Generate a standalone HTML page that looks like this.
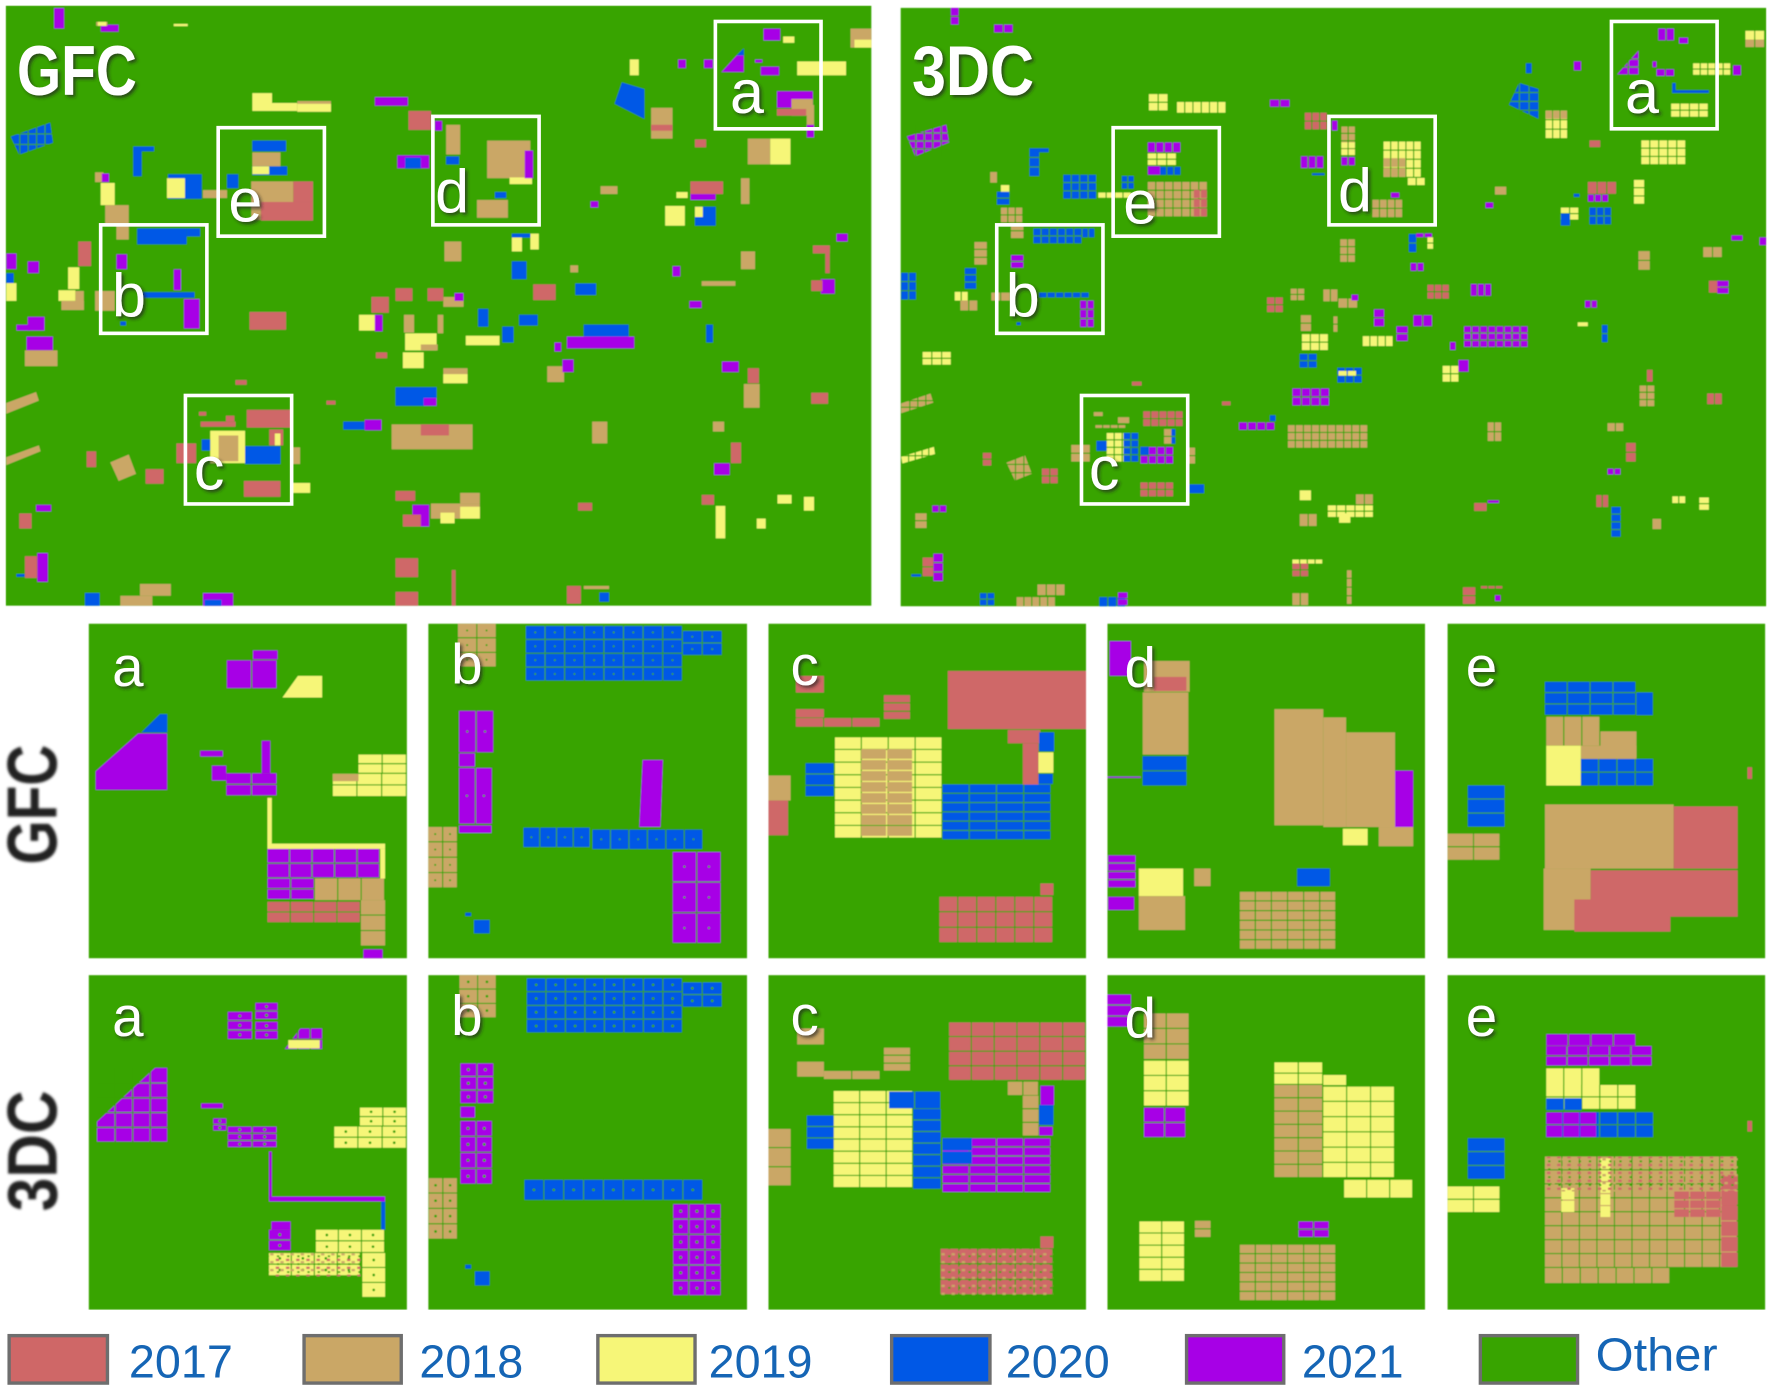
<!DOCTYPE html>
<html lang="en">
<head>
<meta charset="utf-8">
<title>GFC and 3DC land classification maps</title>
<style>
html,body{margin:0;padding:0;background:#fff;}
svg{display:block;width:1772px;height:1391px;font-family:"Liberation Sans",sans-serif;}
.box{fill:none;stroke:#fff;stroke-width:3.2;}
.let{fill:#fff;font-size:54px;text-anchor:middle;filter:url(#shadow);}
.sm{font-size:50px;}
.title{fill:#fff;font-size:62px;font-weight:bold;filter:url(#shadow);}
.side{fill:#222;font-size:62px;font-weight:bold;filter:url(#sideShadow);}
.lg{fill:#1565b5;font-size:41px;}
.sw{stroke:#6e6e6e;stroke-width:3;}
</style>
</head>
<body>
<svg id="fig" viewBox="0 0 1568 1231" xmlns="http://www.w3.org/2000/svg">
<defs>
<filter id="shadow" x="-30%" y="-30%" width="160%" height="160%"><feDropShadow dx="2" dy="2" stdDeviation="1.5" flood-color="#222" flood-opacity=".7"/></filter>
<filter id="sideShadow" x="-30%" y="-30%" width="160%" height="160%"><feGaussianBlur stdDeviation="1.1"/></filter>
<filter id="mapSoften" x="0" y="0" width="100%" height="100%"><feGaussianBlur stdDeviation="0.45"/></filter>
<pattern id="mottle" width="9" height="7" patternUnits="userSpaceOnUse">
<rect x="1" y="1" width="3" height="2" fill="#cf6767"/>
<rect x="5" y="3" width="3" height="2" fill="#caa766"/>
<rect x="2" y="5" width="2" height="1.5" fill="#38a400"/>
</pattern>
</defs>
<rect x="0" y="0" width="1568" height="1231" fill="#fff"/>
<g id="maps" filter="url(#mapSoften)"></g>

<g>
<rect class="box" x="633" y="19" width="93.5" height="95"/>
<rect class="box" x="193" y="113" width="94" height="96"/>
<rect class="box" x="383" y="103" width="94" height="96"/>
<rect class="box" x="89" y="199" width="94" height="96"/>
<rect class="box" x="164" y="350" width="94" height="96"/>
</g>
<g>
<rect class="box" x="1426" y="19" width="93.5" height="95"/>
<rect class="box" x="985" y="113" width="94" height="96"/>
<rect class="box" x="1176" y="103" width="94" height="96"/>
<rect class="box" x="882" y="199" width="94" height="96"/>
<rect class="box" x="957" y="350" width="94" height="96"/>
</g>

<text class="title" x="15" y="84" textLength="106" lengthAdjust="spacingAndGlyphs">GFC</text>
<text class="title" x="807" y="84" textLength="108" lengthAdjust="spacingAndGlyphs">3DC</text>

<text class="let" x="661" y="100">a</text>
<text class="let" x="217" y="196">e</text>
<text class="let" x="400" y="188">d</text>
<text class="let" x="114" y="280">b</text>
<text class="let" x="185" y="433">c</text>
<text class="let" x="1453" y="100">a</text>
<text class="let" x="1009" y="198">e</text>
<text class="let" x="1199" y="187">d</text>
<text class="let" x="905" y="280">b</text>
<text class="let" x="977" y="433">c</text>

<text class="let sm" x="113" y="607">a</text>
<text class="let sm" x="413" y="605">b</text>
<text class="let sm" x="712" y="606">c</text>
<text class="let sm" x="1009" y="608">d</text>
<text class="let sm" x="1311" y="607">e</text>
<text class="let sm" x="113" y="917">a</text>
<text class="let sm" x="413" y="916">b</text>
<text class="let sm" x="712" y="916">c</text>
<text class="let sm" x="1009" y="918">d</text>
<text class="let sm" x="1311" y="917">e</text>

<text class="side" transform="translate(50,765) rotate(-90)" textLength="106" lengthAdjust="spacingAndGlyphs">GFC</text>
<text class="side" transform="translate(50,1072) rotate(-90)" textLength="107" lengthAdjust="spacingAndGlyphs">3DC</text>

<g>
<g><rect class="sw" x="8" y="1182" width="87" height="42" fill="#cf6767"/><text class="lg" x="114" y="1219" textLength="92" lengthAdjust="spacingAndGlyphs">2017</text></g>
<g><rect class="sw" x="269" y="1182" width="86" height="42" fill="#caa766"/><text class="lg" x="371" y="1219" textLength="92" lengthAdjust="spacingAndGlyphs">2018</text></g>
<g><rect class="sw" x="529" y="1182" width="86" height="42" fill="#f6f678"/><text class="lg" x="627" y="1219" textLength="92" lengthAdjust="spacingAndGlyphs">2019</text></g>
<g><rect class="sw" x="789" y="1182" width="87" height="42" fill="#0058e6"/><text class="lg" x="890" y="1219" textLength="92" lengthAdjust="spacingAndGlyphs">2020</text></g>
<g><rect class="sw" x="1050" y="1182" width="86" height="42" fill="#a700e6"/><text class="lg" x="1152" y="1219" textLength="90" lengthAdjust="spacingAndGlyphs">2021</text></g>
<g><rect class="sw" x="1310" y="1182" width="86" height="42" fill="#38a400"/><text class="lg" x="1412" y="1213" textLength="108" lengthAdjust="spacingAndGlyphs">Other</text></g>
</g>
</svg>

<script>
// Land-cover classes, in legend order: 0=2017 1=2018 2=2019 3=2020 4=2021
const classNames = ['2017', '2018', '2019', '2020', '2021'];
const classColors = ['#cf6767', '#caa766', '#f6f678', '#0058e6', '#a700e6'];

// Parcels in each map's own coordinates: [class, x0, y0, x1, y1, cols, rows]
const gfcOverview = [
[4,97,20,115,72],[4,180,62,212,80],[1,172,55,192,65],[2,175,55,190,65],[2,310,60,335,66],
[4,1360,72,1390,102],[2,1395,92,1415,108],[4,1208,150,1222,172],[4,1254,150,1270,172],[4,1345,150,1358,158],[4,1355,168,1388,190],
[2,1420,155,1507,190],[1,1515,72,1552,120],[2,1522,100,1552,120],[4,1384,230,1448,272],[1,1410,250,1448,292],[0,1384,275,1436,292],[1,1437,265,1450,320],[4,1437,315,1450,347],
[1,1160,272,1198,350],[0,1160,315,1198,330],[2,1122,150,1138,190],[0,1238,352,1258,372],[1,1332,350,1372,415],[2,1372,350,1408,415],
[2,450,235,485,280],[2,485,260,530,280],[1,530,255,590,282],[2,530,262,590,282],[4,668,245,727,267],[0,728,280,768,328],[4,775,305,788,330],
[1,795,315,820,390],[3,795,395,818,415],[4,708,392,765,425],[3,722,398,750,425],[1,868,355,945,450],[2,908,448,948,465],[4,935,380,950,450],[1,850,505,905,550],[3,882,485,902,500],
[3,450,355,510,382],[1,450,385,500,420],[3,450,420,512,442],[2,450,420,480,440],[3,405,440,425,475],[1,448,458,523,530],[0,523,458,558,555],[0,465,510,558,557],[1,448,530,465,555],[1,362,480,405,500],
[3,238,370,275,382],[3,238,380,253,445],[3,300,440,360,502],[2,298,450,330,500],[1,170,435,185,460],[4,182,438,195,460],[2,180,462,205,518],[1,188,518,230,565],[1,208,565,230,605],[0,140,610,163,672],
[3,245,577,333,617],[3,333,577,357,597],[4,208,642,227,680],[4,310,680,323,733],[3,255,738,347,752],[4,328,755,356,830],[3,215,812,225,822],[1,170,735,205,785],
[2,122,675,142,730],[2,105,733,135,760],[1,110,760,150,783],[1,135,735,150,783],[4,12,640,30,680],[3,12,690,25,720],[2,12,715,30,760],[4,50,660,70,690],
[0,445,788,510,833],[4,30,820,55,835],[4,50,800,80,835],[4,48,850,95,885],[1,45,885,103,925],[0,155,1140,172,1180],[0,260,1185,292,1222],
[0,440,1035,520,1080],[0,355,1040,368,1050],[0,358,1065,420,1078],[0,403,1050,418,1065],[2,375,1088,437,1170],[1,390,1100,425,1165],[3,360,1110,375,1138],[3,437,1127,500,1172],[0,480,1085,505,1125],[2,490,1095,500,1125],[0,315,1120,350,1170],[0,435,1215,500,1255],[1,522,1130,535,1172],[2,520,1220,553,1245],
[0,420,960,440,972],[0,582,1012,598,1022],[3,612,1065,650,1085],[4,650,1060,680,1087],[3,705,978,778,1025],[4,755,1005,778,1025],[1,698,1072,842,1135],[0,750,1072,800,1100],
[0,662,750,693,790],[0,705,728,735,760],[0,762,728,790,760],[1,790,750,826,775],[4,810,740,826,760],[2,640,795,670,835],[4,668,795,682,837],[1,720,795,738,840],[1,780,795,790,842],
[2,722,842,778,885],[1,750,870,780,885],[2,718,890,755,930],[0,670,890,690,905],[1,790,930,833,968],[2,790,945,833,968],[2,830,848,890,872],[3,852,780,870,825],[3,925,795,958,822],[3,895,825,915,865],
[3,1025,716,1062,745],[0,950,718,990,758],[3,1040,820,1120,850],[4,1010,850,1130,880],[4,988,865,1000,888],[1,975,925,1005,965],[4,1002,908,1022,940],
[1,1320,450,1335,515],[0,1230,458,1288,490],[4,1230,490,1275,505],[2,1185,520,1220,570],[3,1238,522,1275,570],[2,1238,522,1252,548],[2,1205,485,1225,500],[1,1070,470,1100,490],[4,1052,508,1066,524],
[2,945,590,960,630],[3,912,590,945,600],[2,912,600,930,635],[3,912,660,938,705],[1,792,610,822,660],[1,1016,670,1030,688],[4,1198,672,1212,698],[1,1250,710,1310,722],
[0,1448,620,1478,640],[0,1470,620,1478,690],[4,1462,705,1487,742],[0,1445,708,1465,735],[4,1490,590,1510,610],[1,1320,635,1345,680],[4,1228,760,1250,778],[3,1258,820,1270,865],
[4,1286,913,1316,940],[1,1325,970,1353,1030],[0,1332,930,1352,968],[0,1445,992,1475,1020],[1,1055,1065,1082,1120],[0,1302,1118,1320,1170],[4,1272,1170,1300,1200],[1,1270,1065,1290,1090],
[2,1385,1250,1410,1272],[2,1432,1255,1450,1290],[2,1348,1310,1364,1335],[2,1275,1278,1292,1360],[0,1250,1250,1272,1275],
[0,705,1240,740,1265],[1,768,1272,855,1310],[4,735,1275,765,1330],[0,718,1300,750,1330],[2,785,1295,810,1322],[2,820,1280,855,1310],[1,820,1245,855,1272],[0,1030,1270,1055,1290],
[4,65,1275,92,1292],[0,35,1297,57,1335],[4,67,1397,86,1470],[0,45,1405,67,1460],[3,30,1450,45,1457],[0,705,1410,745,1458],[0,705,1495,745,1530],[0,805,1440,812,1530],[0,1010,1480,1035,1525],[3,1068,1497,1085,1520],[1,1040,1480,1085,1488],
[3,152,1498,178,1530],[1,215,1505,272,1530],[1,250,1475,305,1505],[4,362,1498,416,1530],[3,365,1515,395,1530]
];
// Polygons: [class, "x,y x,y ...", cols, rows] — cols/rows add a field lattice
const gfcOverviewShapes = [
[4,'1285,182 1312,140 1325,140 1325,182'],[3,'1312,140 1325,122 1325,140'],[3,'1108,208 1148,225 1148,300 1095,262'],[3,'20,345 90,310 95,360 35,390',5,3],
[1,'12,1018 65,990 70,1012 12,1045'],[1,'12,1155 70,1125 73,1140 12,1175'],[1,'197,1168 230,1148 243,1197 212,1215']
];

const tdcOverview = [
[4,108,20,122,65],[4,185,62,220,82],[4,1365,72,1395,102],[4,1402,95,1418,110],[4,1215,155,1228,178],[4,1355,155,1362,170],[4,1362,175,1395,192],[2,1427,160,1495,192],[4,1498,165,1512,190],
[3,1390,210,1396,235,1,1],[3,1390,228,1455,235,1,1],[2,1388,262,1455,298],[1,1520,78,1555,122],[2,1520,78,1555,100],[2,1165,280,1205,352],[1,1165,280,1205,300],[3,1130,160,1140,185],
[0,1243,355,1262,372],[2,1335,355,1415,418],[2,460,238,495,282],[2,510,258,598,285],[4,675,252,712,270],[0,737,285,778,330],[4,785,305,795,330],
[1,802,320,828,395],[2,802,360,828,395],[4,802,397,828,418],[4,730,395,772,425],[3,750,438,772,443,1,1],[2,877,358,945,450],[1,877,400,918,450],[2,920,450,952,468],[1,857,505,912,552],[4,890,487,905,500],
[4,458,360,518,385],[2,458,388,510,420],[4,458,420,480,442],[3,480,422,518,442],[3,412,445,435,480],[1,458,460,565,550],[2,370,487,430,500],[0,540,480,565,550],
[3,248,375,265,448],[3,265,375,282,385],[3,308,442,368,505],[1,178,435,190,462],[2,197,468,212,490],[3,190,485,212,520],[1,197,525,237,565],[1,215,565,237,605],[1,150,612,172,672],
[3,255,578,342,618],[3,342,578,365,600],[4,215,645,237,680],[3,265,740,355,752],[4,338,760,364,830],[3,225,815,232,822],[1,180,740,215,760],[3,133,678,153,733],[2,115,738,140,760],[1,125,760,157,785],
[3,20,690,48,760],[2,58,890,110,925],[0,270,1185,300,1225],[0,165,1145,180,1180],
[0,450,1040,522,1080],[1,362,1042,378,1052],[1,365,1075,420,1082],[1,405,1055,425,1070],[2,385,1095,428,1170],[3,415,1095,443,1170],[3,367,1115,385,1140],[4,445,1130,505,1175],[3,445,1130,460,1150],[1,487,1085,505,1125],[3,500,1085,507,1125],[1,322,1125,357,1170],[0,445,1220,505,1258],[1,530,1132,542,1175],[3,532,1225,558,1247,1,1],
[0,430,965,447,975],[0,590,1015,605,1025],[4,620,1068,685,1087],[3,675,1050,685,1065],[4,715,982,782,1028],[1,707,1075,850,1135],
[0,670,752,700,792],[1,712,730,738,762],[1,770,732,797,762],[1,797,755,832,778],[4,820,745,832,760],[1,730,797,748,840],[1,788,800,795,842],[2,732,845,780,888],[3,728,895,760,932],[3,795,930,840,970],[2,797,938,830,950],
[2,840,850,895,875],[4,860,782,878,828],[4,930,797,965,825],[4,900,825,920,865],[3,922,592,935,640],[4,935,590,965,600],[2,955,600,965,632],[4,925,665,950,685],[1,800,605,828,665],
[4,1032,718,1070,748],[0,955,720,995,758],[4,1020,825,1135,880],[4,995,865,1005,885],[2,982,925,1012,968],[4,1010,910,1028,940],
[2,1322,455,1340,518],[0,1240,460,1292,490],[4,1240,492,1278,510],[3,1215,490,1225,498],[2,1192,525,1225,558],[3,1192,540,1208,570],[3,1243,525,1283,570],[1,1075,472,1095,492],[4,1058,512,1072,526],
[1,1445,625,1480,650],[0,1455,710,1475,740],[4,1470,710,1490,745],[4,1495,595,1515,608],[4,1545,600,1557,620],[1,1330,635,1350,685],[3,1265,822,1275,868],[4,1235,760,1258,778],[2,1222,815,1240,825],
[1,1332,975,1360,1030],[0,1345,935,1355,965],[0,1452,995,1480,1022],[1,1062,1068,1088,1118],[0,1308,1120,1325,1170],[4,1275,1185,1300,1200],[1,1275,1070,1305,1090],
[2,1390,1255,1415,1272],[2,1438,1258,1455,1292],[1,1355,1312,1370,1338],[3,1282,1282,1298,1360],[0,1255,1252,1278,1282],
[2,728,1240,748,1265],[2,778,1278,860,1310],[1,828,1250,860,1275],[1,728,1300,760,1330],[2,798,1298,818,1322],[0,1038,1272,1060,1292],[4,1062,1265,1082,1272],
[4,75,1278,102,1295],[1,45,1298,65,1338],[4,77,1400,94,1472],[0,58,1410,77,1460],[3,38,1452,55,1458],[2,715,1415,770,1425],[0,715,1425,745,1460],[1,715,1500,745,1530],[1,812,1442,820,1530],[0,1018,1485,1040,1530],[0,1050,1482,1090,1488],[4,1075,1505,1085,1520],
[3,160,1500,187,1533],[1,225,1510,295,1533],[1,262,1478,312,1505],[3,372,1510,420,1533],[4,405,1498,422,1533]
];
const tdcOverviewShapes = [
[4,'1292,188 1330,128 1330,188',2,3],[3,'1118,210 1152,225 1152,300 1100,265',3,4],[4,'30,345 100,315 105,360 45,395',5,4],
[1,'20,1020 72,995 77,1018 20,1045',4,3],[2,'20,1155 78,1130 80,1148 22,1172',5,2],[1,'207,1170 240,1152 252,1198 222,1215',3,3]
];

const gfcA = [
[4,522,118,573,145],[4,468,148,573,232,2,1],[4,413,420,460,438],[4,437,465,467,510],[4,467,488,573,558,2,2],[4,540,390,558,488],
[2,740,432,840,490,2,2],[2,687,490,840,560,3,2],[1,687,490,740,512],[2,552,562,561,705],[2,552,700,795,716],[2,785,716,795,805],
[4,552,716,785,805,5,2],[4,552,805,650,870,2,2],[1,650,805,795,870,3,1],[0,552,875,745,940,4,2],[1,745,870,795,1010,1,3],[4,750,1018,790,1045]
];
const gfcAShapes = [[3,'292,365 330,310 345,310 345,365'],[4,'197,482 285,368 345,368 345,538 197,538']];
const gfcAYellow = [2,'583,260 615,195 665,195 665,260'];
const gfcB = [
[1,945,38,1025,170,2,3],[3,1085,45,1408,212,8,4],[3,1408,60,1490,135,2,2],[4,947,300,1020,425,2,1],[4,947,428,980,468],[4,947,472,1017,640,2,1],[4,947,645,1014,668],
[3,1080,652,1218,710,4,1],[3,1222,658,1450,716,6,1],[4,1387,725,1488,1002,2,3],[1,884,650,945,835,2,4],[3,978,930,1010,970],[3,960,908,972,918]
];
const gfcBShapes = [[4,'1325,448 1367,448 1362,650 1318,650']];
const gfcC = [
[0,303,180,515,355],[0,70,195,113,245],[0,70,295,113,320],[0,70,322,200,348,3,1],[0,205,253,245,328,1,3],[0,395,358,445,398],[0,418,398,442,522],[3,443,365,466,422],[2,442,425,465,487],[3,442,490,464,520],
[2,130,380,295,685,4,8],[1,170,415,250,680,2,8],[3,85,458,128,560,1,3],[3,295,522,462,690,4,6],[1,28,495,62,570],[0,28,570,58,675],[0,290,860,465,1000,6,3],[0,445,820,465,855]
];
const gfcD = [
[4,552,90,585,195],[1,605,150,675,243],[0,620,198,670,240],[1,603,245,673,432],[3,603,437,670,528,1,2],[4,549,498,600,502],
[1,805,295,880,645],[1,880,320,915,650],[1,915,365,990,650],[1,965,650,1018,708],[2,910,655,948,705],[4,990,480,1018,650],
[4,550,735,592,835,1,4],[4,550,860,590,900],[2,597,775,665,858],[1,597,858,668,960],[1,682,775,707,828],[3,840,775,890,828],[1,752,845,900,1020,6,6]
];
const gfcE = [
[3,1220,213,1360,315,4,3],[3,1360,245,1385,313],[1,1222,318,1305,405,3,1],[1,1305,362,1360,440],[1,1275,405,1360,445],[2,1222,405,1275,525],[3,1275,445,1387,528,4,2],
[3,1102,525,1158,652,1,3],[1,1071,670,1152,752,2,2],[1,1220,582,1417,775],[0,1417,588,1515,775],[1,1218,775,1290,960],[0,1290,780,1515,920],[0,1265,868,1412,965],[0,1530,470,1537,505]
];
const tdcA = [
[4,527,113,573,165,1,2],[4,470,140,520,225,1,3],[4,527,170,573,225,1,2],
[4,415,415,460,430,1,1],[4,440,460,467,500,1,2],[4,470,485,573,550,2,3],[4,555,560,561,700,1,1],[4,555,695,795,710,1,1],[3,787,710,795,795,1,1],[4,555,795,600,860,1,2],
[2,652,795,795,865,3,2],[2,555,865,745,935,4,2],[2,748,865,795,1000,1,3],[2,690,485,840,552,3,2],[2,743,428,840,485,2,2],[4,560,770,600,795,1,1],[2,595,225,660,250,1,1]
];
const tdcAShapes = [[4,'588,252 620,190 665,190 665,252',3,2],[4,'200,530 200,470 300,335 320,308 345,308 345,530',4,5]];
const tdcB = [
[1,948,30,1025,160,2,3],[3,1087,40,1408,205,8,4],[3,1408,52,1490,128,2,2],[4,950,295,1020,418,2,3],[4,950,425,980,458,1,1],[4,950,468,1017,660,2,4],
[3,1082,645,1450,705,9,1],[4,1388,718,1488,995,3,6],[1,885,640,945,825,2,4],[3,980,920,1010,962,1,1],[3,960,900,972,912,1,1]
];
const tdcC = [
[0,305,172,515,348,6,4],[1,72,190,113,238,1,1],[1,72,290,113,335,1,1],[1,113,318,200,342,2,1],[1,205,248,245,320,1,3],[1,395,350,443,390,2,1],[1,418,392,442,515,1,3],[4,445,362,466,420,1,1],[3,443,420,465,480,1,1],[4,443,485,464,512,1,1],
[2,128,378,250,670,3,8],[3,213,380,293,430,2,1],[3,250,432,292,675,1,7],[3,87,452,128,555,1,3],[4,295,520,462,685,4,6],[3,295,520,340,600,1,2],[1,28,492,62,665,1,3],[0,292,852,465,992,6,3],[0,445,815,465,850,1,1]
];
const tdcD = [
[4,549,88,585,188,1,3],[1,605,145,675,285,2,3],[2,605,287,675,425,2,3],[4,605,428,670,520,2,2],[2,805,292,880,360,2,2],[1,805,360,880,640,2,7],[2,880,330,915,360,1,1],[2,880,365,990,640,3,6],[2,912,645,1018,698,3,1],
[2,598,770,668,952,2,5],[1,683,768,707,820,1,2],[4,842,770,890,820,2,2],[1,752,840,900,1010,6,6]
];
const tdcE = [
[4,1222,207,1360,242,4,1],[4,1222,243,1385,305,5,2],[2,1222,310,1305,360,3,1],[2,1222,360,1360,435,5,2],[3,1222,400,1278,435,2,1],[3,1222,442,1387,520,6,2],[4,1222,442,1300,520,3,2],
[3,1102,520,1158,645,1,3],[2,1071,665,1152,745,2,2],[1,1220,575,1515,910,11,8],[1,1220,910,1412,955,7,1],[0,1418,680,1515,760,4,3],[0,1490,630,1515,910,1,6],[2,1245,670,1265,745,1,2],[2,1305,580,1320,760,1,5],[0,1530,468,1537,500,1,1]
];
// Speckled mixed-class areas: [x0, y0, x1, y1]
const tdcAMottled = [[555,865,745,935]];
const tdcCMottled = [[292,852,465,992]];
const tdcEMottled = [[1220,575,1515,680]];

gfcAShapes.push(gfcAYellow);

// Panels: on-page frame, map-coordinate domain, parcels, polygons, auto lattice, field-centre dot radius
const panelDefs = [
{name:'gfc-overview',frame:[5,5,766,531],dom:[11,1552,14,1530],rects:gfcOverview,shapes:gfcOverviewShapes,mottled:[],cell:null,dot:0},
{name:'3dc-overview',frame:[797,7,766,529.5],dom:[19,1557,20,1533],rects:tdcOverview,shapes:tdcOverviewShapes,mottled:[],cell:[15,21],dot:0},
{name:'gfc-detail-a',frame:[78.5,552,281.5,296],dom:[183,840,38,1045],rects:gfcA,shapes:gfcAShapes,mottled:[],cell:null,dot:0},
{name:'gfc-detail-b',frame:[379,552,282,296],dom:[884,1540,38,1045],rects:gfcB,shapes:gfcBShapes,mottled:[],cell:null,dot:0.9},
{name:'gfc-detail-c',frame:[680,552,281,296],dom:[28,515,38,1045],rects:gfcC,shapes:[],mottled:[],cell:null,dot:0},
{name:'gfc-detail-d',frame:[980,552,281,296],dom:[549,1036,38,1045],rects:gfcD,shapes:[],mottled:[],cell:null,dot:0},
{name:'gfc-detail-e',frame:[1281,552,281,296],dom:[1071,1557,38,1045],rects:gfcE,shapes:[],mottled:[],cell:null,dot:0},
{name:'3dc-detail-a',frame:[78.5,863,281.5,296],dom:[183,840,30,1035],rects:tdcA,shapes:tdcAShapes,mottled:tdcAMottled,cell:null,dot:1.2},
{name:'3dc-detail-b',frame:[379,863,282,296],dom:[884,1540,30,1035],rects:tdcB,shapes:[],mottled:[],cell:null,dot:1.2},
{name:'3dc-detail-c',frame:[680,863,281,296],dom:[28,515,30,1035],rects:tdcC,shapes:[],mottled:tdcCMottled,cell:null,dot:0},
{name:'3dc-detail-d',frame:[980,863,281,296],dom:[549,1036,30,1035],rects:tdcD,shapes:[],mottled:[],cell:null,dot:0},
{name:'3dc-detail-e',frame:[1281,863,281,296],dom:[1071,1557,30,1035],rects:tdcE,shapes:[],mottled:tdcEMottled,cell:null,dot:0}
];

const SVGNS = 'http://www.w3.org/2000/svg';
const OTHER_COLOR = '#38a400';
const root = document.getElementById('maps');

function xAxis(p, v) { return p.frame[0] + (v - p.dom[0]) / (p.dom[1] - p.dom[0]) * p.frame[2]; }
function yAxis(p, v) { return p.frame[1] + (v - p.dom[2]) / (p.dom[3] - p.dom[2]) * p.frame[3]; }

function drawCell(group, cls, x, y, w, h, dot) {
  const el = document.createElementNS(SVGNS, 'rect');
  
  
  el.setAttribute('x', x.toFixed(2));
  el.setAttribute('y', y.toFixed(2));
  el.setAttribute('width', Math.max(w, 0.5).toFixed(2));
  el.setAttribute('height', Math.max(h, 0.5).toFixed(2));
  el.setAttribute('fill', classColors[cls]);
  group.appendChild(el);
  if (dot) {
    const d = document.createElementNS(SVGNS, 'circle');
    
    
    d.setAttribute('cx', (x + w / 2).toFixed(2));
    d.setAttribute('cy', (y + h / 2).toFixed(2));
    d.setAttribute('r', dot);
    d.setAttribute('fill', OTHER_COLOR);
    group.appendChild(d);
  }
}

function drawLattice(group, xs, ys, cols, rows) {
  const x0 = Math.min.apply(null, xs), x1 = Math.max.apply(null, xs);
  const y0 = Math.min.apply(null, ys), y1 = Math.max.apply(null, ys);
  for (let i = 1; i < cols; i++) {
    const v = document.createElementNS(SVGNS, 'rect');
    
    
    v.setAttribute('x', (x0 + (x1 - x0) * i / cols).toFixed(2));
    v.setAttribute('y', y0.toFixed(2));
    v.setAttribute('width', 1);
    v.setAttribute('height', (y1 - y0).toFixed(2));
    v.setAttribute('fill', OTHER_COLOR);
    group.appendChild(v);
  }
  for (let j = 1; j < rows; j++) {
    const h = document.createElementNS(SVGNS, 'rect');
    
    
    h.setAttribute('x', x0.toFixed(2));
    h.setAttribute('y', (y0 + (y1 - y0) * j / rows).toFixed(2));
    h.setAttribute('width', (x1 - x0).toFixed(2));
    h.setAttribute('height', 1);
    h.setAttribute('fill', OTHER_COLOR);
    group.appendChild(h);
  }
}

panelDefs.forEach(function (p) {
  const group = document.createElementNS(SVGNS, 'g');
  
  
  const bg = document.createElementNS(SVGNS, 'rect');
  
  
  bg.setAttribute('x', p.frame[0]);
  bg.setAttribute('y', p.frame[1]);
  bg.setAttribute('width', p.frame[2]);
  bg.setAttribute('height', p.frame[3]);
  bg.setAttribute('fill', OTHER_COLOR);
  group.appendChild(bg);

  p.shapes.forEach(function (s) {
    const xs = [], ys = [];
    const pts = s[1].split(' ').map(function (pair) {
      const c = pair.split(',').map(Number);
      const px = xAxis(p, c[0]), py = yAxis(p, c[1]);
      xs.push(px);
      ys.push(py);
      return px.toFixed(2) + ',' + py.toFixed(2);
    }).join(' ');
    const el = document.createElementNS(SVGNS, 'polygon');
    
    
    el.setAttribute('points', pts);
    el.setAttribute('fill', classColors[s[0]]);
    group.appendChild(el);
    if (s[2]) drawLattice(group, xs, ys, s[2], s[3]);
  });

  p.rects.forEach(function (r) {
    const x = xAxis(p, r[1]), y = yAxis(p, r[2]);
    const w = xAxis(p, r[3]) - x, h = yAxis(p, r[4]) - y;
    let cols = r[5], rows = r[6];
    if (!cols && p.cell) {
      cols = Math.max(1, Math.round((r[3] - r[1]) / p.cell[0]));
      rows = Math.max(1, Math.round((r[4] - r[2]) / p.cell[1]));
    }
    const latticed = !!r[5] && (r[5] > 1 || r[6] > 1);
    cols = cols || 1; rows = rows || 1;
    const cw = w / cols, ch = h / rows;
    const dot = (p.dot && (latticed || (cw > 15 && ch > 15))) ? p.dot : 0;
    for (let i = 0; i < cols; i++) {
      for (let j = 0; j < rows; j++) {
        drawCell(group, r[0], x + i * cw, y + j * ch, cw - (cols > 1 ? 1 : 0), ch - (rows > 1 ? 1 : 0), dot);
      }
    }
  });

  p.mottled.forEach(function (m) {
    const x = xAxis(p, m[0]), y = yAxis(p, m[1]);
    const el = document.createElementNS(SVGNS, 'rect');
    
    
    el.setAttribute('x', x.toFixed(2));
    el.setAttribute('y', y.toFixed(2));
    el.setAttribute('width', (xAxis(p, m[2]) - x).toFixed(2));
    el.setAttribute('height', (yAxis(p, m[3]) - y).toFixed(2));
    el.setAttribute('fill', 'url(#mottle)');
    group.appendChild(el);
  });
  root.appendChild(group);
});
</script>
</body>
</html>
